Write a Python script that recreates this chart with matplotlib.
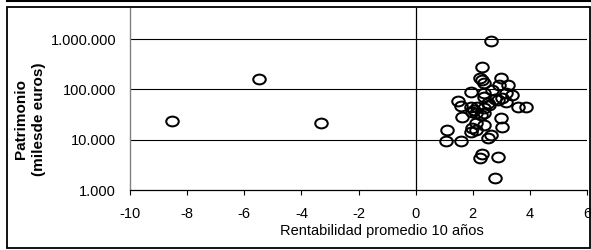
import numpy as np
import matplotlib.pyplot as plt
from matplotlib.path import Path
from matplotlib.patches import Rectangle
from matplotlib.ticker import FuncFormatter, FixedLocator, NullLocator

plt.rcParams['font.family'] = ['Liberation Sans', 'DejaVu Sans']

# rentabilidad promedio 10 años (%) y patrimonio (miles de euros)
rentabilidad = [-8.53, -5.50, -3.30,
                2.63, 2.34, 2.26, 2.34, 2.40, 2.98, 2.92, 3.22, 1.95, 2.40,
                2.69, 3.16, 3.39, 2.87, 3.04, 3.16, 1.50, 1.58, 3.57, 3.86,
                2.52, 1.93, 2.05, 2.11, 2.40, 2.57, 1.64, 2.28, 2.40, 2.98,
                3.04, 2.11, 1.99, 1.93, 2.11, 2.40, 1.11, 1.05, 1.60, 2.63,
                2.54, 2.34, 2.26, 2.89, 2.78, 1.99, 2.16, 2.40, 2.77]
patrimonio = [23500, 162000, 21500,
              930000, 283000, 166000, 154000, 132000, 166000, 122000, 122000,
              87500, 83500, 97000, 83500, 77400, 61500, 66500, 56900, 59600,
              46800, 45300, 44000, 53000, 45300, 38900, 33500, 42100, 49000,
              28600, 31000, 33500, 26600, 18100, 21200, 16900, 14400, 15600,
              19600, 15600, 9400, 9400, 12400, 10700, 5200, 4270, 4600, 1710,
              36000, 45000, 71600, 64600]

y_ticks = [1000, 10000, 100000, 1000000]
x_ticks = [-10, -8, -6, -4, -2, 0, 2, 4, 6]

W, H = 591, 250
fig = plt.figure(figsize=(W / 100, H / 100), dpi=100)
ax = fig.add_axes([130 / W, 1 - 190 / H, (587 - 130) / W, (190 - 8) / H])

# slightly flattened circle marker
circ = Path.unit_circle()
ell = Path(circ.vertices * np.array([1.0, 0.78]), circ.codes)

ax.set_yscale('log')
ax.set_xlim(-10, 6)
ax.set_ylim(1000, 10 ** 6.62)

for v in y_ticks[1:]:
    ax.axhline(v, color='black', lw=0.8, zorder=1)
ax.axvline(0, color='black', lw=0.9, zorder=1)

ax.plot(rentabilidad, patrimonio, linestyle='none', marker=ell,
        markersize=9.0, markerfacecolor='none', markeredgecolor='black',
        markeredgewidth=1.45, zorder=3)

ax.yaxis.set_major_locator(FixedLocator(y_ticks))
ax.yaxis.set_minor_locator(NullLocator())
ax.yaxis.set_major_formatter(FuncFormatter(lambda v, p: f"{int(round(v)):,}".replace(',', '.')))
ax.set_xticks(x_ticks)
ax.set_xticklabels([str(t) for t in x_ticks])

ax.tick_params(axis='y', length=0, pad=10, labelsize=10.5)
ax.tick_params(axis='x', direction='out', length=3.5, width=0.8, pad=9,
               labelsize=10.5)

for s in ['top', 'right']:
    ax.spines[s].set_visible(False)
ax.spines['left'].set_color('#808080')
ax.spines['left'].set_linewidth(1.0)
ax.spines['bottom'].set_color('black')
ax.spines['bottom'].set_linewidth(0.9)

fig.text(382 / W, 1 - 235 / H, 'Rentabilidad promedio 10 años',
         ha='center', va='baseline', fontsize=10.5)
fig.text(30 / W, 1 - 119 / H, 'Patrimonio\n(milesde euros)', rotation=90,
         ha='center', va='center', fontsize=11, fontweight='bold',
         multialignment='center', linespacing=1.35)

# outer frame
fig.patches.append(Rectangle((7 / W, 1 - 248 / H), (590 - 7) / W, (248 - 7) / H,
                             transform=fig.transFigure, fill=False,
                             edgecolor='black', lw=1.3))
fig.add_artist(plt.Line2D([7 / W, 1], [1 - 1 / H, 1 - 1 / H],
                          transform=fig.transFigure, color='black', lw=1.5))

fig.savefig('out.png', dpi=100)
